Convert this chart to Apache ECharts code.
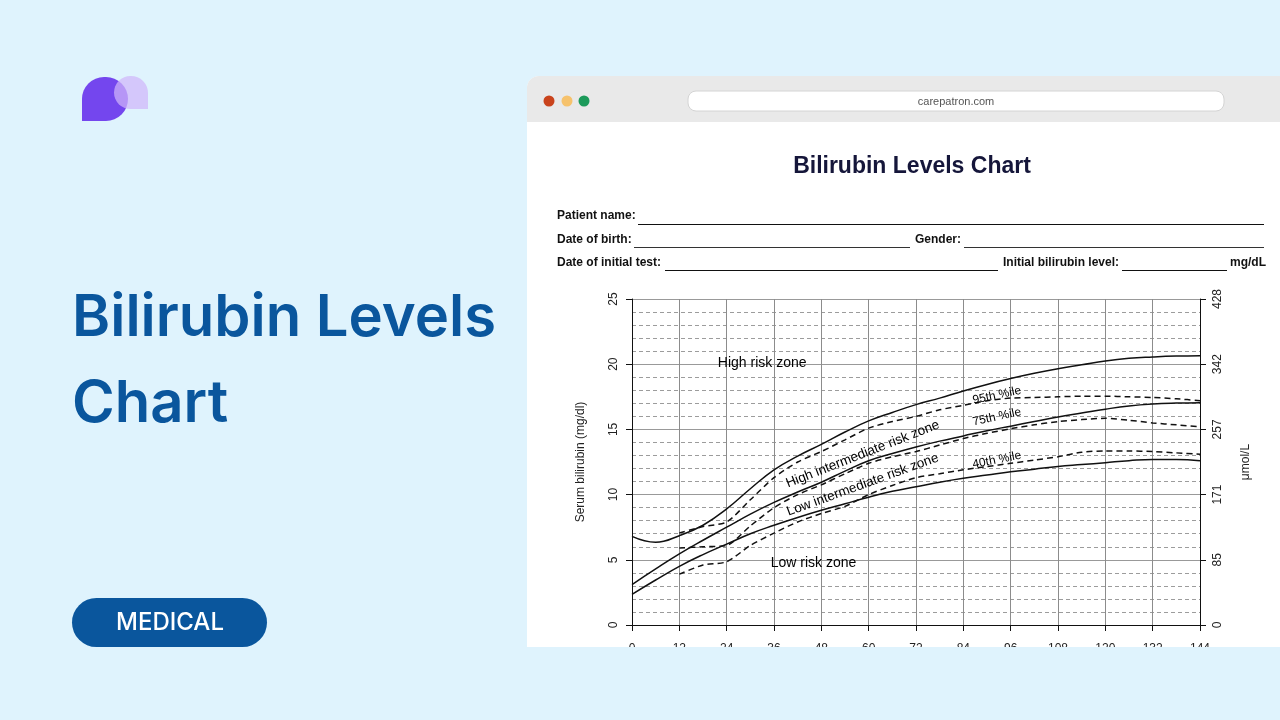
<!DOCTYPE html>
<html><head><meta charset="utf-8">
<script src="https://cdn.jsdelivr.net/npm/echarts@6/dist/echarts.min.js"></script>
<style>html,body{margin:0;padding:0;background:#dff3fd;}#c{width:1280px;height:720px;}</style>
</head><body><div id="c"></div>
<script>
// ---- data ----
const solidHours = [0,6,12,18,24,30,36,42,48,54,60,66,72,78,84,90,96,102,108,114,120,126,132,138,144];
const p95Smooth = [6.8,6.35,6.85,7.65,8.9,10.45,11.9,12.95,13.85,14.8,15.65,16.3,16.9,17.4,17.95,18.45,18.9,19.3,19.65,19.95,20.25,20.45,20.55,20.62,20.65];
const p75Smooth = [3.1,4.3,5.45,6.5,7.5,8.5,9.4,10.2,10.95,11.8,12.6,13.15,13.65,14.1,14.5,14.9,15.25,15.6,15.95,16.25,16.55,16.8,16.95,17.02,17.05];
const p40Smooth = [2.35,3.45,4.5,5.4,6.2,7.0,7.65,8.25,8.8,9.3,9.8,10.25,10.6,10.95,11.25,11.5,11.75,11.95,12.15,12.3,12.45,12.6,12.7,12.7,12.6];
const observedHours = [12,18,24,30,36,42,48,54,60,66,72,78,84,90,96,102,108,114,120,126,132,138,144];
const p95Observed = [7.05,7.55,7.9,9.6,11.3,12.5,13.3,14.2,15.1,15.6,16.0,16.5,16.85,17.2,17.4,17.45,17.5,17.55,17.55,17.5,17.45,17.35,17.2];
const p75Observed = [5.9,6.0,6.1,7.6,9.0,10.0,10.75,11.6,12.4,12.9,13.3,13.8,14.3,14.7,15.05,15.35,15.6,15.75,15.85,15.7,15.5,15.35,15.2];
const p40Observed = [3.9,4.6,4.85,6.1,7.05,7.9,8.55,9.1,10.0,10.7,11.3,11.6,11.9,12.15,12.4,12.65,12.9,13.25,13.35,13.35,13.3,13.2,13.1];
const umolTickLabels = ['0','85','171','257','342','428'];
const zoneLabels = ['High risk zone','High intermediate risk zone','Low intermediate risk zone','Low risk zone'];
const zoneLabelHours = [33, 58.5, 58.5, 46];
const zoneLabelValues = [20.1, 13.1, 10.75, 4.75];
const percentileLabels = ['95th %ile','75th %ile','40th %ile'];
const percentileLabelHours = [92.5, 92.5, 92.5];
const percentileLabelValues = [17.6, 15.95, 12.65];

// ---- build ----
const pair = (xs, ys) => xs.map((x, i) => [x, ys[i]]);
const FONT = 'Liberation Sans, Arial, sans-serif';
const zoneRot = [0, 21.5, 20, 0];
const pctRot = [12, 12, 11];

function lineSeries(xs, ys, dashed) {
  return {
    type: 'line', data: pair(xs, ys), showSymbol: false, symbol: 'none',
    smooth: dashed ? 0.25 : 0.45, silent: true, z: 3,
    lineStyle: { color: '#111', width: 1.5, type: dashed ? [6, 4] : 'solid' }
  };
}

const labelStyle = { show: true, position: 'inside', color: '#000', opacity: 1, textBorderWidth: 0, textShadowBlur: 0, fontFamily: FONT, align: 'center', verticalAlign: 'middle' };
const labelData = zoneLabels.map((t, i) => ({
  value: [zoneLabelHours[i], zoneLabelValues[i]], name: t,
  label: Object.assign({}, labelStyle, { rotate: zoneRot[i], fontSize: i === 0 || i === 3 ? 14 : 13.5 })
})).concat(percentileLabels.map((t, i) => ({
  value: [percentileLabelHours[i], percentileLabelValues[i]], name: t,
  label: Object.assign({}, labelStyle, { rotate: pctRot[i], fontSize: 12 })
})));

const bg = '#dff3fd';
const blue = '#0a569d';

const graphics = [
  // browser card
  { type: 'rect', z: -20, shape: { x: 527, y: 76, width: 760, height: 571, r: [12, 0, 0, 0] }, style: { fill: '#ffffff' } },
  { type: 'rect', z: -19, shape: { x: 527, y: 76, width: 760, height: 46, r: [12, 0, 0, 0] }, style: { fill: '#e9e9e9' } },
  { type: 'circle', z: -18, shape: { cx: 549, cy: 101, r: 5.5 }, style: { fill: '#c9431c' } },
  { type: 'circle', z: -18, shape: { cx: 567, cy: 101, r: 5.5 }, style: { fill: '#f6c26c' } },
  { type: 'circle', z: -18, shape: { cx: 584, cy: 101, r: 5.5 }, style: { fill: '#1c9a5a' } },
  { type: 'rect', z: -18, shape: { x: 688, y: 91, width: 536, height: 20, r: 8 }, style: { fill: '#ffffff', stroke: '#d4d4d4', lineWidth: 1 } },
  { type: 'text', z: -17, style: { x: 956, y: 101.5, text: 'carepatron.com', fill: '#555', font: '11px ' + FONT, align: 'center', verticalAlign: 'middle' } },
  { type: 'text', z: -17, style: { x: 912, y: 167, text: 'Bilirubin Levels Chart', fill: '#15163a', font: 'bold 23px ' + FONT, align: 'center', verticalAlign: 'middle' } },
  // form
  { type: 'text', z: -17, style: { x: 557, y: 216, text: 'Patient name:', fill: '#111', font: 'bold 12px ' + FONT, verticalAlign: 'middle' } },
  { type: 'line', z: -17, shape: { x1: 638, y1: 224.5, x2: 1264, y2: 224.5 }, style: { stroke: '#111', lineWidth: 1 } },
  { type: 'text', z: -17, style: { x: 557, y: 240, text: 'Date of birth:', fill: '#111', font: 'bold 12px ' + FONT, verticalAlign: 'middle' } },
  { type: 'line', z: -17, shape: { x1: 634, y1: 247.5, x2: 910, y2: 247.5 }, style: { stroke: '#333', lineWidth: 1 } },
  { type: 'text', z: -17, style: { x: 915, y: 240, text: 'Gender:', fill: '#111', font: 'bold 12px ' + FONT, verticalAlign: 'middle' } },
  { type: 'line', z: -17, shape: { x1: 964, y1: 247.5, x2: 1264, y2: 247.5 }, style: { stroke: '#333', lineWidth: 1 } },
  { type: 'text', z: -17, style: { x: 557, y: 263, text: 'Date of initial test:', fill: '#111', font: 'bold 12px ' + FONT, verticalAlign: 'middle' } },
  { type: 'line', z: -17, shape: { x1: 665, y1: 270.5, x2: 998, y2: 270.5 }, style: { stroke: '#111', lineWidth: 1 } },
  { type: 'text', z: -17, style: { x: 1003, y: 263, text: 'Initial bilirubin level:', fill: '#111', font: 'bold 12px ' + FONT, verticalAlign: 'middle' } },
  { type: 'line', z: -17, shape: { x1: 1122, y1: 270.5, x2: 1227, y2: 270.5 }, style: { stroke: '#111', lineWidth: 1 } },
  { type: 'text', z: -17, style: { x: 1230, y: 263, text: 'mg/dL', fill: '#111', font: 'bold 12px ' + FONT, verticalAlign: 'middle' } },
  // left panel
  { type: 'rect', z: -17, shape: { x: 82, y: 77, width: 46, height: 44, r: [22, 22, 22, 0] }, style: { fill: '#7446ee' } },
  { type: 'rect', z: -16, shape: { x: 114, y: 76, width: 34, height: 33, r: [17, 17, 0, 17] }, style: { fill: 'rgba(208,182,250,0.72)' } },
  { type: 'text', z: -17, style: { x: 72, y: 319, text: 'Bilirubin Levels', fill: blue, font: '600 58px Inter, sans-serif', verticalAlign: 'middle' } },
  { type: 'text', z: -17, style: { x: 72, y: 405, text: 'Chart', fill: blue, font: '600 58px Inter, sans-serif', verticalAlign: 'middle' } },
  { type: 'rect', z: -17, shape: { x: 72, y: 598, width: 195, height: 49, r: 24.5 }, style: { fill: blue } },
  { type: 'text', z: -16, style: { x: 170, y: 623, text: 'MEDICAL', fill: '#ffffff', font: '500 24px Inter, sans-serif', align: 'center', verticalAlign: 'middle' } },
  // clip below card
  { type: 'rect', z: 100, shape: { x: 527, y: 647, width: 760, height: 80 }, style: { fill: bg } }
];

const axisText = { color: '#222', fontSize: 12, fontFamily: FONT };

const option = {
  backgroundColor: bg,
  animation: false,
  graphic: graphics,
  grid: { left: 632, right: 80, top: 299, bottom: 95 },
  xAxis: {
    type: 'value', min: 0, max: 144, interval: 12,
    axisLine: { show: true, onZero: false, lineStyle: { color: '#111', width: 1 } },
    axisTick: { show: true, length: 6, lineStyle: { color: '#111' } },
    axisLabel: Object.assign({ margin: 18 }, axisText),
    splitLine: { show: true, lineStyle: { color: '#8c8c8c', width: 1 } }
  },
  yAxis: [
    {
      type: 'value', min: 0, max: 25, interval: 5, position: 'left',
      name: 'Serum bilirubin (mg/dl)', nameLocation: 'middle', nameGap: 45, nameRotate: 90,
      nameTextStyle: { color: '#222', fontSize: 12, fontFamily: FONT },
      axisLine: { show: true, lineStyle: { color: '#111', width: 1 } },
      axisTick: { show: true, length: 6, lineStyle: { color: '#111' } },
      axisLabel: Object.assign({ rotate: 90, margin: 12 }, axisText),
      splitLine: { show: true, lineStyle: { color: '#999', width: 1.2 } },
      minorTick: { show: false, splitNumber: 5 },
      minorSplitLine: { show: true, lineStyle: { color: '#9c9c9c', width: 1, type: [4, 3] } }
    },
    {
      type: 'value', min: 0, max: 25, interval: 5, position: 'right',
      name: 'μmol/L', nameLocation: 'middle', nameGap: 40, nameRotate: 90,
      nameTextStyle: { color: '#222', fontSize: 12, fontFamily: FONT },
      axisLine: { show: true, lineStyle: { color: '#111', width: 1 } },
      axisTick: { show: true, length: 6, lineStyle: { color: '#111' } },
      axisLabel: Object.assign({ rotate: 90, margin: 12, formatter: v => umolTickLabels[Math.round(v / 5)] }, axisText),
      splitLine: { show: false }
    }
  ],
  series: [
    lineSeries(solidHours, p95Smooth, false),
    lineSeries(solidHours, p75Smooth, false),
    lineSeries(solidHours, p40Smooth, false),
    lineSeries(observedHours, p95Observed, true),
    lineSeries(observedHours, p75Observed, true),
    lineSeries(observedHours, p40Observed, true),
    {
      type: 'scatter', symbolSize: 0, silent: true, z: 5, data: labelData,
      itemStyle: { color: '#000', opacity: 1 },
      label: Object.assign({ formatter: p => p.name }, labelStyle)
    }
  ]
};

const chart = echarts.init(document.getElementById('c'), null, { renderer: 'canvas' });
chart.setOption(option);
</script>
</body></html>
